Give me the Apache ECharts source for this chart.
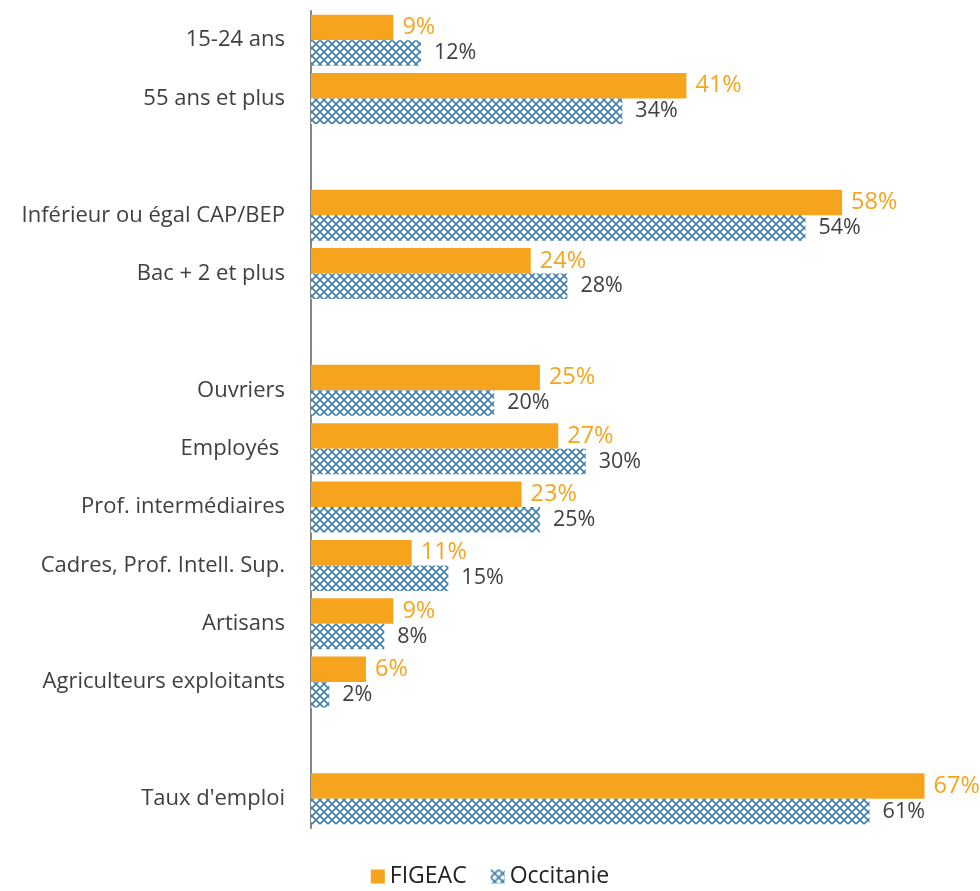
<!DOCTYPE html>
<html><head><meta charset="utf-8">
<script src="https://cdn.jsdelivr.net/npm/echarts@6/dist/echarts.min.js"></script>
<style>html,body{margin:0;padding:0;background:#fff}#c{width:980px;height:891px}</style>
</head><body><div id="c"></div>
<script>
const categories = ['15-24 ans', '55 ans et plus', '', 'Inférieur ou égal CAP/BEP', 'Bac + 2 et plus', '', 'Ouvriers', 'Employés ', 'Prof. intermédiaires', 'Cadres, Prof. Intell. Sup.', 'Artisans', 'Agriculteurs exploitants', '', "Taux d'emploi"];
const figeac = [9, 41, '-', 58, 24, '-', 25, 27, 23, 11, 9, 6, '-', 67];
const occitanie = [12, 34, '-', 54, 28, '-', 20, 30, 25, 15, 8, 2, '-', 61];

function makePattern() {
  const s = 8;
  const cv = document.createElement('canvas');
  cv.width = s; cv.height = s;
  const ctx = cv.getContext('2d');
  ctx.fillStyle = '#ffffff';
  ctx.fillRect(0, 0, s, s);
  ctx.strokeStyle = '#3f7fab';
  ctx.lineWidth = 1.6;
  ctx.beginPath();
  ctx.moveTo(0, 0); ctx.lineTo(s, s);
  ctx.moveTo(s, 0); ctx.lineTo(0, s);
  ctx.stroke();
  return cv;
}
const pat = { image: makePattern(), repeat: 'repeat' };
const font = '"Open Sans", sans-serif';

const chart = echarts.init(document.getElementById('c'));
chart.setOption({
  animation: false,
  textStyle: { fontFamily: font },
  grid: { left: 311, right: 28, top: 11, height: 817 },
  legend: {
    bottom: -2, left: 'center', itemWidth: 14, itemHeight: 14, itemGap: 24,
    icon: 'rect',
    textStyle: { fontSize: 23, color: '#222', fontFamily: font },
    data: ['FIGEAC', 'Occitanie']
  },
  xAxis: { type: 'value', min: 0, max: 70, show: false, splitLine: { show: false } },
  yAxis: {
    type: 'category', data: categories, inverse: true,
    axisLine: { show: true, lineStyle: { color: '#868686', width: 2 } },
    axisTick: { show: false },
    axisLabel: { fontSize: 22, color: '#404040', margin: 26, fontFamily: font }
  },
  series: [
    {
      name: 'FIGEAC', type: 'bar', data: figeac, barWidth: 25.5, barGap: '0%',
      itemStyle: { color: '#F6A41E' },
      label: { show: true, position: 'right', distance: 9, formatter: '{c}%', fontSize: 23.5, color: '#F6A41E', fontFamily: font }
    },
    {
      name: 'Occitanie', type: 'bar', data: occitanie, barWidth: 25.5,
      itemStyle: { color: pat },
      label: { show: true, position: 'right', distance: 13, formatter: '{c}%', fontSize: 21.5, color: '#404040', fontFamily: font }
    }
  ]
});
</script></body></html>
